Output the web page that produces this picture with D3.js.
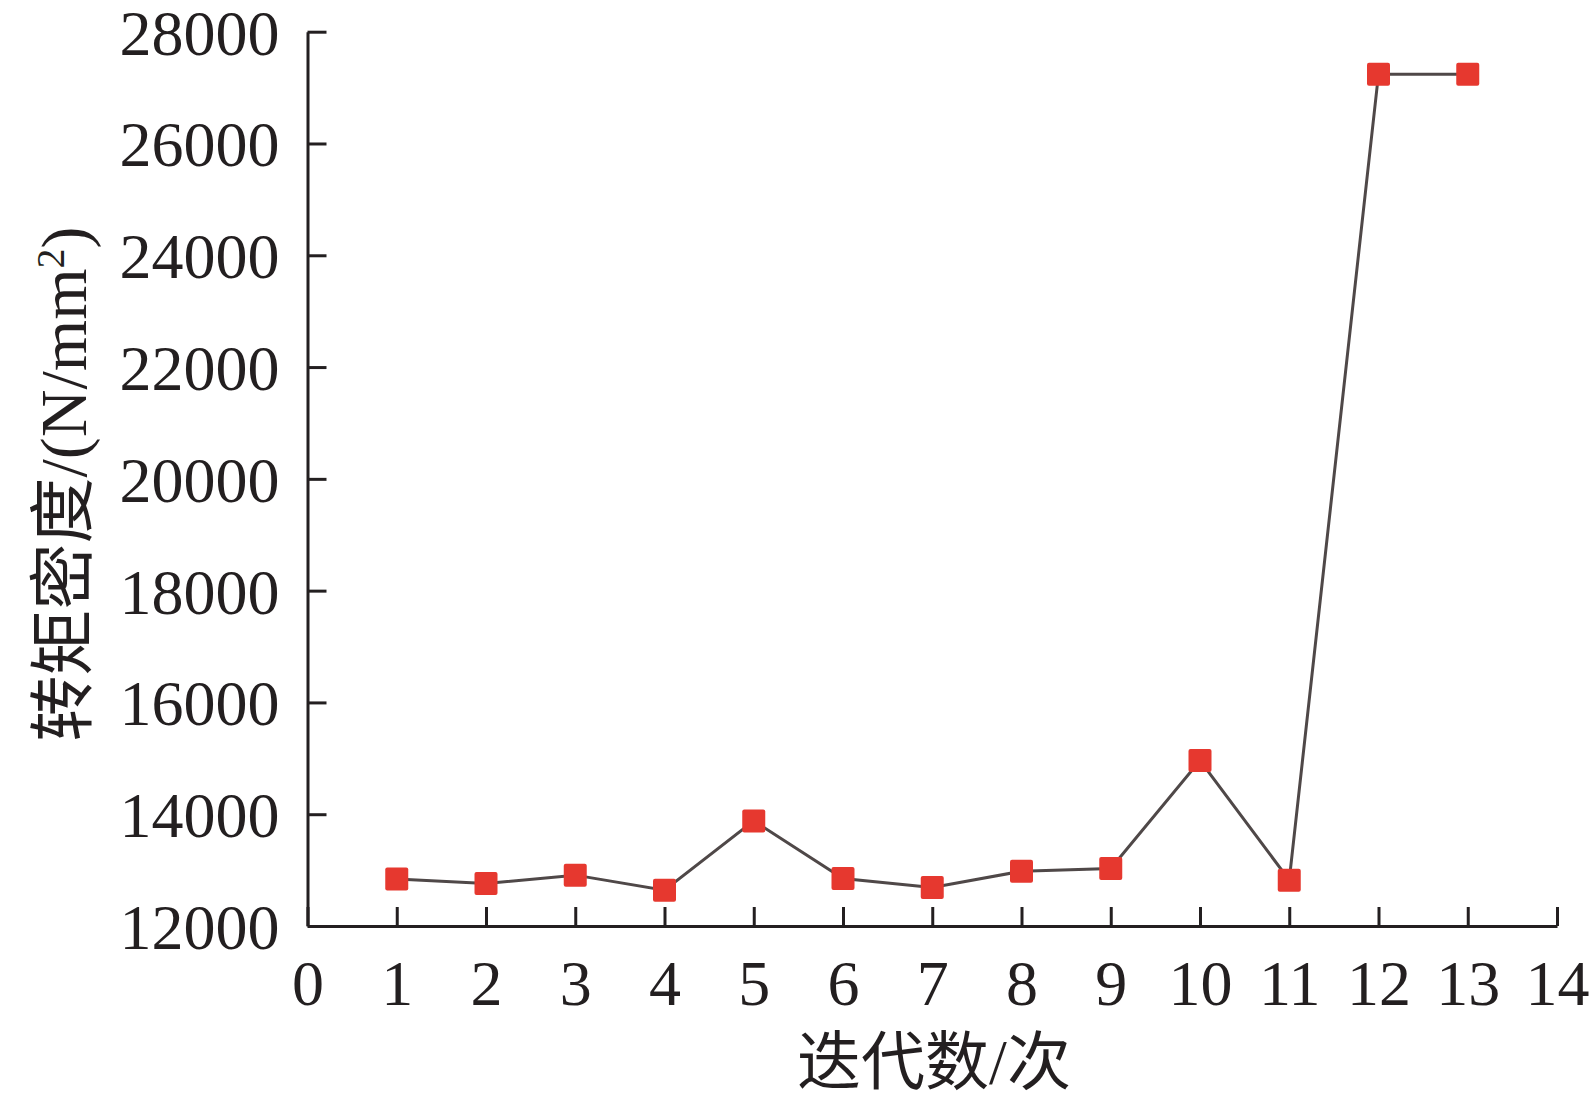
<!DOCTYPE html>
<html>
<head>
<meta charset="utf-8">
<script src="https://cdn.jsdelivr.net/npm/d3@7"></script>
<style>
  html, body { margin: 0; padding: 0; background: #fff; }
  svg { display: block; }
</style>
</head>
<body>
<svg id="chart" width="1591" height="1104"></svg>
<script>
// ---- data ----
const iterations = [1, 2, 3, 4, 5, 6, 7, 8, 9, 10, 11, 12, 13];
const torqueDensity = [12840, 12760, 12910, 12640, 13880, 12850, 12690, 12980, 13030, 14960, 12820, 27240, 27240];
const xTicks = [0, 1, 2, 3, 4, 5, 6, 7, 8, 9, 10, 11, 12, 13, 14];
const yTicks = [12000, 14000, 16000, 18000, 20000, 22000, 24000, 26000, 28000];
const xTitle = "迭代数/次";
const yTitleMain = "转矩密度/(N/mm";
const yTitleSup = "2";
const yTitleEnd = ")";

// ---- layout ----
const ink = "#231f20";
const fontFamily = "'Liberation Serif', 'Times New Roman', 'Noto Sans CJK SC', serif";
const svg = d3.select("#chart");

const x = d3.scaleLinear().domain([0, 14]).range([307.5, 1557]);
const y = d3.scaleLinear().domain([12000, 28000]).range([926, 31.7]);

// X axis
const gx = svg.append("g")
  .attr("transform", `translate(0,${y(12000)})`)
  .call(d3.axisBottom(x).tickValues(xTicks).tickFormat(d3.format("d"))
        .tickSizeInner(-19).tickSizeOuter(0).tickPadding(34));

// Y axis
const gy = svg.append("g")
  .attr("transform", `translate(${x(0)},0)`)
  .call(d3.axisLeft(y).tickValues(yTicks).tickFormat(d3.format("d"))
        .tickSizeInner(-19).tickSizeOuter(0).tickPadding(28));

[gx, gy].forEach(g => {
  g.select(".domain").attr("stroke", ink).attr("stroke-width", 3);
  g.selectAll(".tick line").attr("stroke", ink).attr("stroke-width", 3);
  g.selectAll(".tick text")
    .attr("fill", ink)
    .style("font-family", fontFamily)
    .style("font-size", "64px");
});
gy.selectAll(".tick text").attr("dy", "0.35em");

// Line
const line = d3.line()
  .x((d, i) => x(iterations[i]))
  .y(d => y(d));

svg.append("path")
  .datum(torqueDensity)
  .attr("d", line)
  .attr("fill", "none")
  .attr("stroke", "#4f4848")
  .attr("stroke-width", 3);

// Markers
const ms = 23;
svg.append("g").selectAll("rect")
  .data(torqueDensity)
  .join("rect")
  .attr("x", (d, i) => x(iterations[i]) - ms / 2)
  .attr("y", d => y(d) - ms / 2)
  .attr("width", ms)
  .attr("height", ms)
  .attr("rx", 2)
  .attr("fill", "#e6382f");

// X title
svg.append("text")
  .attr("x", 934)
  .attr("y", 1084)
  .attr("text-anchor", "middle")
  .attr("fill", ink)
  .style("font-family", fontFamily)
  .style("font-size", "64px")
  .text(xTitle);

// Y title
const yt = svg.append("text")
  .attr("transform", "translate(86,484) rotate(-90)")
  .attr("text-anchor", "middle")
  .attr("fill", ink)
  .style("font-family", fontFamily)
  .style("font-size", "66px");
yt.append("tspan").text(yTitleMain);
yt.append("tspan").attr("dy", "-0.55em").style("font-size", "40px").text(yTitleSup);
yt.append("tspan").attr("dy", "0.35em").text(yTitleEnd);
</script>
</body>
</html>
